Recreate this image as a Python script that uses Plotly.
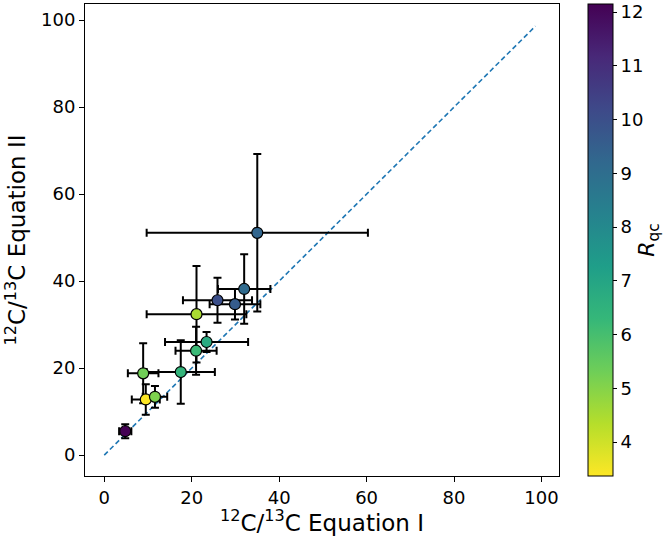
import plotly.graph_objects as go

# data
eq1 = [4.8, 9.5, 11.6, 8.9, 17.5, 21.0, 23.4, 21.1, 25.9, 29.9, 32.0, 35.0]
eq2 = [5.5, 12.8, 13.4, 18.8, 19.1, 24.0, 26.0, 32.4, 35.6, 34.7, 38.2, 51.1]
eq1_err = [1.4, 3.2, 2.8, 3.5, 7.8, 4.7, 9.5, 11.4, 7.9, 5.8, 6.0, 25.3]
eq2_err = [1.6, 3.5, 2.5, 6.9, 7.3, 5.5, 2.3, 11.1, 5.2, 3.5, 8.0, 18.1]
r_qc = [12.15, 3.37, 5.1, 5.3, 6.4, 6.2, 6.8, 4.5, 10.0, 9.6, 9.1, 9.3]
line_ends = [0, 98.6]

FONT = "DejaVu Sans"

fig = go.Figure()
fig.add_trace(go.Scatter(
    x=line_ends, y=line_ends, mode="lines",
    line=dict(color="#1f77b4", width=1.6, dash="5px,3px"),
    showlegend=False, hoverinfo="skip"))
fig.add_trace(go.Scatter(
    x=eq1, y=eq2, mode="markers",
    error_x=dict(type="data", array=eq1_err, color="black", thickness=2, width=4),
    error_y=dict(type="data", array=eq2_err, color="black", thickness=2, width=4),
    marker=dict(size=11, color=r_qc, colorscale="Viridis", reversescale=True,
                cmin=min(r_qc), cmax=max(r_qc),
                line=dict(color="black", width=1.2),
                colorbar=dict(
                    x=1.061, xanchor="left", xref="paper", xpad=0, ypad=0,
                    y=0.5, yanchor="middle", len=1.0, lenmode="fraction",
                    thickness=25, outlinecolor="black", outlinewidth=1,
                    tickvals=[4, 5, 6, 7, 8, 9, 10, 11, 12],
                    ticks="outside", ticklen=4, tickcolor="black",
                    tickfont=dict(family=FONT, size=18, color="black"),
                    title=dict(text="<i>R</i><sub>qc</sub>", side="right",
                               font=dict(family=FONT, size=22, color="black")),
                )),
    showlegend=False))

axis_common = dict(
    showgrid=False, zeroline=False, showline=True, linecolor="black", linewidth=1,
    mirror=True, ticks="outside", ticklen=5, tickcolor="black",
    tickfont=dict(family=FONT, size=18, color="black"),
    tickvals=[0, 20, 40, 60, 80, 100],
)
fig.update_xaxes(range=[-4.4, 104.0],
                 title=dict(text="<sup>12</sup>C/<sup>13</sup>C Equation I",
                            font=dict(family=FONT, size=23, color="black"), standoff=0),
                 **axis_common)
fig.update_yaxes(range=[-4.8, 103.7],
                 title=dict(text="<sup>12</sup>C/<sup>13</sup>C Equation II",
                            font=dict(family=FONT, size=23, color="black"), standoff=8),
                 **axis_common)
fig.update_layout(
    width=671, height=536,
    margin=dict(l=85, r=112, t=4, b=60, autoexpand=False),
    plot_bgcolor="white", paper_bgcolor="white",
    font=dict(family=FONT),
)
fig.write_html("out.html")
